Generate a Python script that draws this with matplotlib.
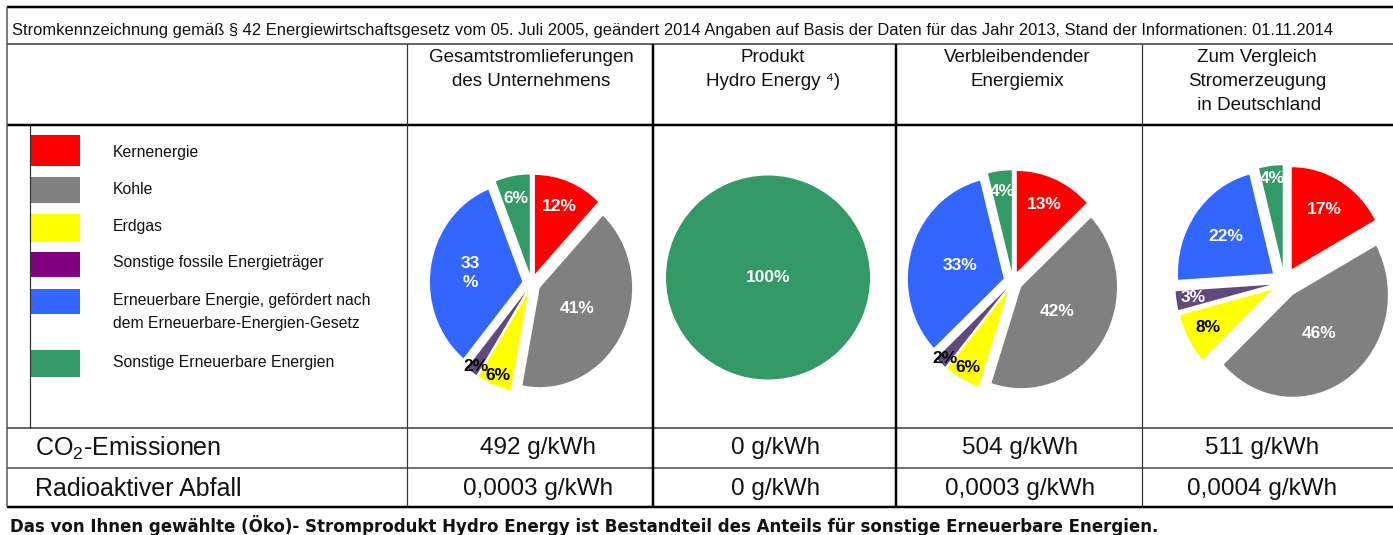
import matplotlib
matplotlib.use('Agg')
import matplotlib.pyplot as plt
from matplotlib.patches import Rectangle
import numpy as np

plt.rcParams['font.family'] = ['Liberation Sans', 'DejaVu Sans']
plt.rcParams['mathtext.fontset'] = 'custom'
plt.rcParams['mathtext.rm'] = 'Liberation Sans'
plt.rcParams['mathtext.it'] = 'Liberation Sans:italic'

W, H = 1393, 535
DPI = 100

# Daten
kategorien = ['Kernenergie', 'Kohle', 'Erdgas', 'Sonstige fossile Energieträger',
              'Erneuerbare Energie, gefördert nach\ndem Erneuerbare-Energien-Gesetz',
              'Sonstige Erneuerbare Energien']
farben = ['#FF0000', '#808080', '#FFFF00', '#800080', '#3366FF', '#339966']
farben_pie = ['#FF0000', '#808080', '#FFFF00', '#604A7B', '#3366FF', '#339966']

spalten = [['Gesamtstromlieferungen', 'des Unternehmens'],
           ['Produkt', 'Hydro Energy \u2074)'],
           ['Verbleibendender', 'Energiemix'],
           ['Zum Vergleich', 'Stromerzeugung', ' in Deutschland']]

gesamt = [12, 41, 6, 2, 33, 6]
produkt = [0, 0, 0, 0, 0, 100]
verbleibend = [13, 42, 6, 2, 33, 4]
deutschland = [17, 46, 8, 3, 22, 4]

zeilen = ['CO$_2$-Emissionen', 'Radioaktiver Abfall']
co2 = ['492 g/kWh', '0 g/kWh', '504 g/kWh', '511 g/kWh']
abfall = ['0,0003 g/kWh', '0 g/kWh', '0,0003 g/kWh', '0,0004 g/kWh']

titel = ('Stromkennzeichnung gemäß § 42 Energiewirtschaftsgesetz vom 05. Juli 2005, '
         'geändert 2014 Angaben auf Basis der Daten für das Jahr 2013, '
         'Stand der Informationen: 01.11.2014')
fussnote = ('Das von Ihnen gewählte (Öko)- Stromprodukt Hydro Energy ist Bestandteil '
            'des Anteils für sonstige Erneuerbare Energien.')

fig = plt.figure(figsize=(W / DPI, H / DPI), dpi=DPI)
ax = fig.add_axes([0, 0, 1, 1])
ax.set_xlim(0, W)
ax.set_ylim(H, 0)
ax.axis('off')

px = 0.72  # 1 pixel in points


def hline(y, x0, x1, lw, c='black'):
    ax.plot([x0, x1], [y, y], color=c, lw=lw * px, solid_capstyle='butt')


def vline(x, y0, y1, lw, c='black'):
    ax.plot([x, x], [y0, y1], color=c, lw=lw * px, solid_capstyle='butt')


# Tabellenlinien
hline(7, 7, W, 2.5)
hline(44, 7, W, 1.5, '#333333')
hline(125, 7, W, 2.5)
hline(428, 7, W, 2, '#666666')
hline(468, 7, W, 1.5, '#444444')
hline(507, 7, W, 2.5)
vline(7, 7, 507, 1.5, '#555555')
vline(30, 125, 428, 1.2, '#333333')
vline(407, 44, 507, 1.2, '#333333')
vline(653, 44, 507, 2.5)
vline(896, 44, 507, 2.5)
vline(1142, 44, 507, 1.2, '#333333')

ax.text(12, 31, titel, fontsize=11.9, va='center', ha='left', color='#111111')

# Spaltenkoepfe
kopf_x = [531, 773, 1017, 1257]
for x, zeilen_kopf in zip(kopf_x, spalten):
    for j, t in enumerate(zeilen_kopf):
        ax.text(x, 57 + j * 24.5, t, fontsize=13.5, ha='center', va='center', color='#111111')

# Legende
legende_y = [(135, 166), (177, 203), (214, 242), (252, 277), (289, 314), (350, 377)]
text_y = [152, 189, 227, 263, 312, 362]
for (y0, y1), ty, f, k in zip(legende_y, text_y, farben, kategorien):
    ax.add_patch(Rectangle((31, y0), 49, y1 - y0, color=f, lw=0))
    ax.text(113, ty, k, fontsize=11.3, ha='left', va='center', color='#111111',
            linespacing=1.6)

# untere Zeilen
ax.text(35, 448, zeilen[0], fontsize=18, ha='left', va='center', color='#111111')
ax.text(35, 489, zeilen[1], fontsize=18, ha='left', va='center', color='#111111')
werte_x = [538, 776, 1020, 1262]
for x, a, b in zip(werte_x, co2, abfall):
    ax.text(x, 448, a, fontsize=17.5, ha='center', va='center', color='#111111')
    ax.text(x, 489, b, fontsize=17.5, ha='center', va='center', color='#111111')

ax.text(10, 525, fussnote, fontsize=12, ha='left', va='center', color='#111111',
        family='DejaVu Sans', fontweight='bold')


def torte(werte, labels, cx, cy, sx, sy, explode, dist, txtfarben):
    L = 1.35
    pa = fig.add_axes([(cx - L * sx) / W, (H - cy - L * sy) / H,
                       2 * L * sx / W, 2 * L * sy / H])
    idx = [i for i, v in enumerate(werte) if v > 0]
    vals = [werte[i] for i in idx]
    wedges, _ = pa.pie(vals, colors=[farben_pie[i] for i in idx], startangle=90,
                       counterclock=False, explode=[explode] * len(vals),
                       wedgeprops=dict(linewidth=0))
    pa.set_aspect('auto')
    pa.set_xlim(-L, L)
    pa.set_ylim(-L, L)
    pa.axis('off')
    for k, (w, i) in enumerate(zip(wedges, idx)):
        th = np.deg2rad((w.theta1 + w.theta2) / 2)
        r = dist[k]
        pa.text(r * np.cos(th), r * np.sin(th), labels[i], fontsize=12.5,
                fontweight='bold', color=txtfarben[k], ha='center', va='center',
                linespacing=1.3)


lab1 = [f'{v}%' for v in gesamt]
lab1[4] = '33\n%'
torte(gesamt, lab1, 531.5, 283.4, 92.4, 99.2, 0.1,
      [0.83, 0.56, 1.0, 1.03, 0.67, 0.87],
      ['white', 'white', 'black', 'black', 'white', 'white'])
torte(produkt, [f'{v}%' for v in produkt], 768, 277.5, 102, 102, 0.0,
      [0.0], ['white'])
torte(verbleibend, [f'{v}%' for v in verbleibend], 1013, 281.5, 95.9, 101.2, 0.1,
      [0.83, 0.55, 0.97, 1.04, 0.57, 0.9],
      ['white', 'white', 'black', 'black', 'white', 'white'])
torte(deutschland, [f'{v}%' for v in deutschland], 1284.5, 282.4, 95, 102, 0.15,
      [0.83, 0.62, 0.92, 0.97, 0.76, 1.03],
      ['white', 'white', 'black', 'white', 'white', 'white'])

fig.savefig('out.png', dpi=DPI)
